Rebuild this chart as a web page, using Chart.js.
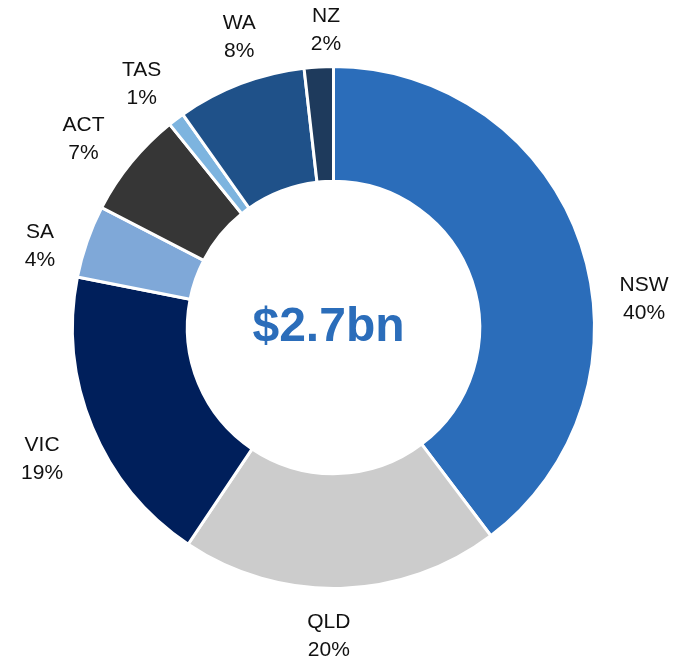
<!DOCTYPE html>
<html>
<head>
<meta charset="utf-8">
<script src="https://cdn.jsdelivr.net/npm/chart.js@4"></script>
<style>
  html, body { margin: 0; padding: 0; background: #fff; }
  #wrap { width: 679px; height: 663px; position: relative; }
</style>
</head>
<body>
<div id="wrap"><canvas id="donut_chart"></canvas></div>
<script>
const regions = ['NSW', 'QLD', 'VIC', 'SA', 'ACT', 'TAS', 'WA', 'NZ'];
const shares = [39.7, 19.7, 18.7, 4.5, 6.6, 1.0, 8.0, 1.8];
const shareLabels = ['40%', '20%', '19%', '4%', '7%', '1%', '8%', '2%'];
const sliceColors = ['#2b6dba', '#cccccc', '#001f5b', '#7fa8d8', '#363636', '#7db4df', '#1f5189', '#1e3a5c'];
const centerText = '$2.7bn';

// label placement tweaks: angle nudge (deg) and distance past the ring (px)
const labelShift = [13, 2.5, -1.5, -3.5, -2, -1, 3, 1.8];
const labelGap = [51, 46, 58, 44, 53, 50, 46, 38];

/*Outside labels + centre total*/
const donutLabels = {
    id: 'donutLabels',
    afterDraw(chart) {
        const ctx = chart.ctx;
        const meta = chart.getDatasetMeta(0);
        ctx.save();
        ctx.fillStyle = '#111';
        ctx.font = '21px "Liberation Sans", Arial, sans-serif';
        ctx.textAlign = 'center';
        ctx.textBaseline = 'middle';
        meta.data.forEach((arc, i) => {
            const mid = (arc.startAngle + arc.endAngle) / 2 + labelShift[i] * Math.PI / 180;
            const r = arc.outerRadius + labelGap[i];
            const x = arc.x + Math.cos(mid) * r;
            const y = arc.y + Math.sin(mid) * r + 2;
            ctx.fillText(regions[i], x, y - 14);
            ctx.fillText(shareLabels[i], x, y + 14);
        });
        const a = meta.data[0];
        ctx.fillStyle = '#2b6dba';
        ctx.font = 'bold 48px "Liberation Sans", Arial, sans-serif';
        ctx.fillText(centerText, a.x - 5, a.y);
        ctx.restore();
    }
};

const donut = document.getElementById('donut_chart').getContext('2d');

new Chart(donut, {
    type: 'doughnut',
    data: {
        labels: regions,
        datasets: [{
            data: shares,
            backgroundColor: sliceColors,
            borderColor: '#ffffff',
            borderWidth: 3
        }]
    },
    options: {
        responsive: true,
        maintainAspectRatio: false,
        animation: false,
        cutout: '56%',
        layout: {
            padding: { left: 71, right: 83, top: 64, bottom: 72 }
        },
        plugins: {
            legend: { display: false },
            tooltip: { enabled: false }
        }
    },
    plugins: [donutLabels]
});
</script>
</body>
</html>
